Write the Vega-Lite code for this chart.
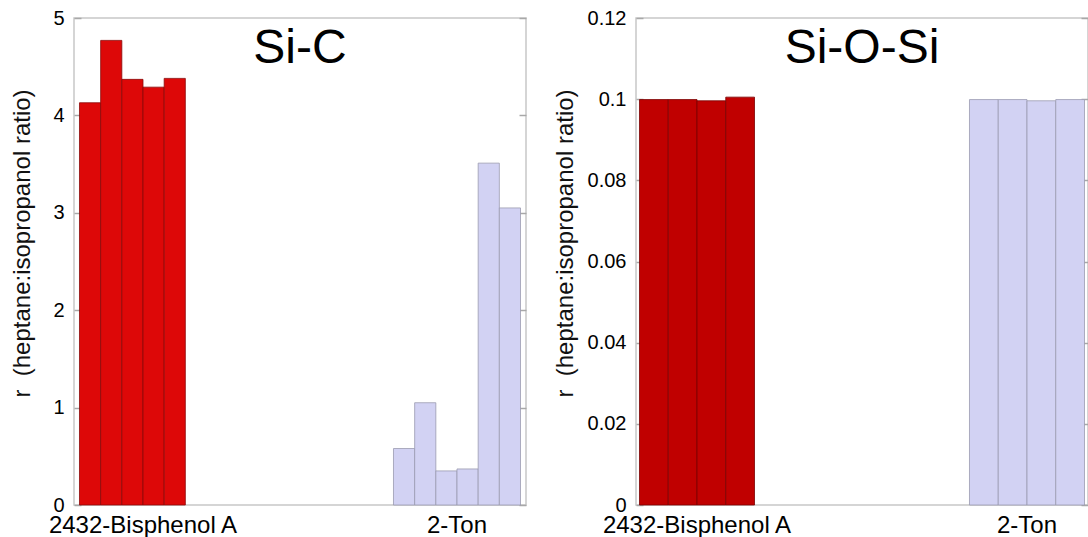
{
  "$schema": "https://vega.github.io/schema/vega-lite/v6.json",
  "padding": {"left": 10, "top": 7, "right": 0, "bottom": 0},
  "background": "white",
  "datasets": {
    "sic": [
      {"material": "2432-Bisphenol A", "sample": 1, "r": 4.13},
      {"material": "2432-Bisphenol A", "sample": 2, "r": 4.77},
      {"material": "2432-Bisphenol A", "sample": 3, "r": 4.37},
      {"material": "2432-Bisphenol A", "sample": 4, "r": 4.29},
      {"material": "2432-Bisphenol A", "sample": 5, "r": 4.38},
      {"material": "2-Ton", "sample": 1, "r": 0.58},
      {"material": "2-Ton", "sample": 2, "r": 1.05},
      {"material": "2-Ton", "sample": 3, "r": 0.35},
      {"material": "2-Ton", "sample": 4, "r": 0.37},
      {"material": "2-Ton", "sample": 5, "r": 3.51},
      {"material": "2-Ton", "sample": 6, "r": 3.05}
    ],
    "siosi": [
      {"material": "2432-Bisphenol A", "sample": 1, "r": 0.0999},
      {"material": "2432-Bisphenol A", "sample": 2, "r": 0.0999},
      {"material": "2432-Bisphenol A", "sample": 3, "r": 0.0996},
      {"material": "2432-Bisphenol A", "sample": 4, "r": 0.1005},
      {"material": "2-Ton", "sample": 1, "r": 0.0999},
      {"material": "2-Ton", "sample": 2, "r": 0.0999},
      {"material": "2-Ton", "sample": 3, "r": 0.0996},
      {"material": "2-Ton", "sample": 4, "r": 0.0999}
    ]
  },
  "config": {
    "font": "Liberation Sans",
    "view": {"stroke": "#c8c8c8", "strokeWidth": 1.5},
    "axis": {
      "domain": false,
      "grid": false,
      "tickColor": "#a8a8a8",
      "tickWidth": 1.5,
      "tickSize": -7,
      "labelFont": "Liberation Sans",
      "labelFontSize": 20,
      "labelColor": "#000000",
      "labelLimit": 400,
      "titleFont": "Liberation Sans",
      "titleFontSize": 24,
      "titleFontWeight": "normal",
      "titleColor": "#111111"
    },
    "title": {"font": "Liberation Sans", "fontSize": 48, "fontWeight": "normal", "color": "#000000", "anchor": "middle", "frame": "group", "baseline": "alphabetic"}
  },
  "spacing": 24,
  "hconcat": [
    {
      "width": 452,
      "height": 487,
      "data": {"name": "sic"},
      "title": {"text": "Si-C", "offset": -65},
      "resolve": {"axis": {"y": "independent"}},
      "layer": [
        {
          "mark": {"type": "bar", "strokeWidth": 0.8},
          "encoding": {
            "x": {"field": "material", "type": "nominal", "sort": ["2432-Bisphenol A", "2-Ton"],
                  "scale": {"paddingInner": 0.5955, "paddingOuter": 0.0175},
                  "axis": {"title": null, "ticks": false, "labelAngle": 0, "labelFontSize": 24, "labelPadding": 8}},
            "xOffset": {"field": "sample", "type": "ordinal", "scale": {"domain": [1, 2, 3, 4, 5, 6], "paddingInner": 0, "paddingOuter": 0}},
            "y": {"field": "r", "type": "quantitative", "scale": {"domain": [0, 5], "nice": false},
                  "axis": {"title": "r\u00a0 (heptane:isopropanol ratio)", "values": [0, 1, 2, 3, 4, 5], "labelPadding": 17, "titlePadding": 18, "titleY": 225}},
            "color": {"field": "material", "type": "nominal", "scale": {"domain": ["2432-Bisphenol A", "2-Ton"], "range": ["#dd0808", "#d2d2f3"]}, "legend": null},
            "stroke": {"field": "material", "type": "nominal", "scale": {"domain": ["2432-Bisphenol A", "2-Ton"], "range": ["#8a0a0a", "#9a9ab0"]}, "legend": null}
          }
        },
        {
          "mark": {"type": "rule", "opacity": 0},
          "encoding": {
            "y": {"field": "r", "type": "quantitative",
                  "axis": {"orient": "right", "labels": false, "title": null, "values": [0, 1, 2, 3, 4, 5]}}
          }
        }
      ]
    },
    {
      "width": 452,
      "height": 487,
      "data": {"name": "siosi"},
      "title": {"text": "Si-O-Si", "offset": -65},
      "resolve": {"axis": {"y": "independent"}},
      "layer": [
        {
          "mark": {"type": "bar", "strokeWidth": 0.8},
          "encoding": {
            "x": {"field": "material", "type": "nominal", "sort": ["2432-Bisphenol A", "2-Ton"],
                  "scale": {"paddingInner": 0.6515, "paddingOuter": 0.0106},
                  "axis": {"title": null, "ticks": false, "labelAngle": 0, "labelFontSize": 24, "labelPadding": 8}},
            "xOffset": {"field": "sample", "type": "ordinal", "scale": {"domain": [1, 2, 3, 4], "paddingInner": 0, "paddingOuter": 0}},
            "y": {"field": "r", "type": "quantitative", "scale": {"domain": [0, 0.12], "nice": false},
                  "axis": {"title": "r\u00a0 (heptane:isopropanol ratio)", "values": [0, 0.02, 0.04, 0.06, 0.08, 0.1, 0.12], "labelExpr": "format(datum.value, '.2~f')", "labelPadding": 17, "titlePadding": 10, "titleY": 225}},
            "color": {"field": "material", "type": "nominal", "scale": {"domain": ["2432-Bisphenol A", "2-Ton"], "range": ["#c00000", "#d2d2f3"]}, "legend": null},
            "stroke": {"field": "material", "type": "nominal", "scale": {"domain": ["2432-Bisphenol A", "2-Ton"], "range": ["#7a0000", "#9a9ab0"]}, "legend": null}
          }
        },
        {
          "mark": {"type": "rule", "opacity": 0},
          "encoding": {
            "y": {"field": "r", "type": "quantitative",
                  "axis": {"orient": "right", "labels": false, "title": null, "values": [0, 0.02, 0.04, 0.06, 0.08, 0.1, 0.12]}}
          }
        }
      ]
    }
  ],
  "resolve": {"scale": {"color": "independent", "stroke": "independent", "x": "independent", "y": "independent", "xOffset": "independent"}}
}
